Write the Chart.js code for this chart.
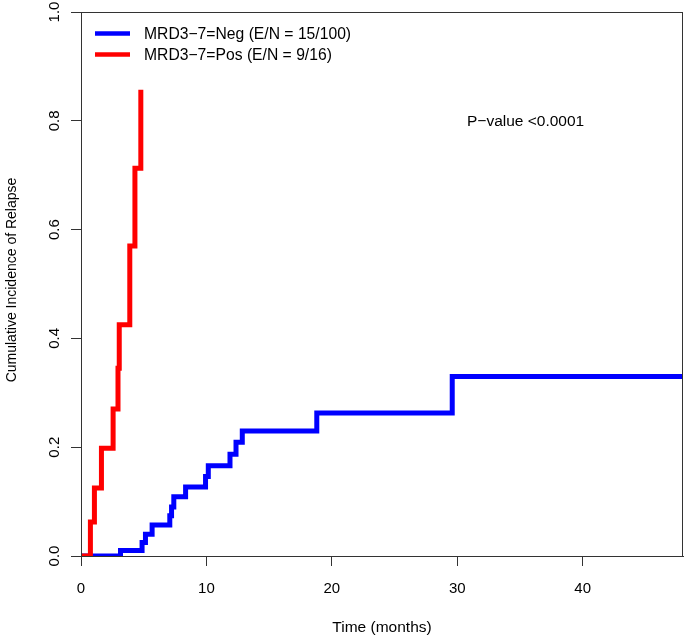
<!DOCTYPE html>
<html><head><meta charset="utf-8">
<script src="https://cdn.jsdelivr.net/npm/chart.js@4"></script>
<style>html,body{margin:0;padding:0;background:#fff}#wrap{width:685px;height:640px}</style>
</head><body><div id="wrap"><canvas id="c"></canvas></div>
<script>
// ---- data ----
const negTimes  = [0, 3.15, 4.87, 5.14, 5.67, 7.08, 7.22, 7.4, 8.34, 9.93, 10.15, 11.88, 12.36, 12.86, 18.8, 29.6, 48];
const negValues = [0, 0.01, 0.025, 0.04, 0.057, 0.074, 0.09, 0.109, 0.127, 0.146, 0.166, 0.187, 0.209, 0.23, 0.263, 0.33, 0.33];
const posTimes  = [0, 0.75, 1.07, 1.63, 2.56, 2.95, 3.05, 3.89, 4.3, 4.77];
const posValues = [0, 0.0625, 0.125, 0.198, 0.27, 0.345, 0.425, 0.57, 0.713, 0.857];
const seriesLabels = ['MRD3\u22127=Neg (E/N = 15/100)', 'MRD3\u22127=Pos (E/N = 9/16)'];
const seriesColors = ['#0000ff', '#ff0000'];
const xTicks = [0, 10, 20, 30, 40];
const yTicks = [0, 0.2, 0.4, 0.6, 0.8, 1.0];
const yTickLabels = ['0.0', '0.2', '0.4', '0.6', '0.8', '1.0'];
const xTitle = 'Time (months)';
const yTitle = 'Cumulative Incidence of Relapse';
const pText = 'P\u2212value <0.0001';

const FONT = '"Liberation Sans", Arial, sans-serif';
const toPts = (t, v) => t.map((x, i) => ({x, y: v[i]}));

const decor = {
  id: 'decor',
  afterDraw(chart) {
    const {ctx, chartArea: a, scales: {x, y}} = chart;
    ctx.save();
    ctx.strokeStyle = '#333'; ctx.lineWidth = 1;
    ctx.strokeRect(a.left + 0.5, a.top + 0.5, a.right - a.left - 1, a.bottom - a.top);
    ctx.fillStyle = '#000';
    ctx.font = '15px ' + FONT;
    ctx.textAlign = 'center'; ctx.textBaseline = 'middle';
    yTicks.forEach((v, i) => {
      const py = y.getPixelForValue(v);
      ctx.save(); ctx.translate(55, py); ctx.rotate(-Math.PI / 2);
      ctx.fillText(yTickLabels[i], 0, 0); ctx.restore();
    });
    ctx.font = '14px ' + FONT;
    ctx.save(); ctx.translate(12, 280); ctx.rotate(-Math.PI / 2);
    ctx.fillText(yTitle, 0, 0); ctx.restore();
    ctx.font = '15.5px ' + FONT;
    ctx.fillText(xTitle, (a.left + a.right) / 2, 628);
    // legend
    ctx.textAlign = 'left';
    ctx.font = '15.7px ' + FONT;
    chart.data.datasets.forEach((ds, i) => {
      const ly = 33.5 + i * 21;
      ctx.strokeStyle = ds.borderColor; ctx.lineWidth = 4.5;
      ctx.beginPath(); ctx.moveTo(95, ly); ctx.lineTo(130, ly); ctx.stroke();
      ctx.fillText(ds.label, 144, ly + 1.5);
    });
    ctx.font = '15.5px ' + FONT;
    ctx.fillText(pText, 467, 122);
    ctx.restore();
  }
};

new Chart(document.getElementById('c'), {
  type: 'line',
  data: {
    datasets: [
      {label: seriesLabels[0], data: toPts(negTimes, negValues), borderColor: seriesColors[0], borderWidth: 5, stepped: 'before', pointRadius: 0, fill: false, order: 1, borderCapStyle: 'butt', borderJoinStyle: 'miter'},
      {label: seriesLabels[1], data: toPts(posTimes, posValues), borderColor: seriesColors[1], borderWidth: 5, stepped: 'before', pointRadius: 0, fill: false, order: 0, borderCapStyle: 'butt', borderJoinStyle: 'miter'}
    ]
  },
  options: {
    responsive: true, maintainAspectRatio: false, animation: false,
    layout: {padding: {top: 12, right: 2, left: 0, bottom: 0}},
    plugins: {legend: {display: false}, tooltip: {enabled: false}},
    scales: {
      x: {
        type: 'linear', min: 0, max: 48,
        afterBuildTicks: s => { s.ticks = xTicks.map(v => ({value: v})); },
        afterFit: s => { s.height = 84; },
        grid: {drawOnChartArea: false, drawTicks: true, tickLength: 10, color: '#333'},
        border: {display: true, color: '#333'},
        ticks: {font: {size: 15, family: FONT}, color: '#000', padding: 14, maxRotation: 0}
      },
      y: {
        type: 'linear', min: 0, max: 1,
        afterBuildTicks: s => { s.ticks = yTicks.map(v => ({value: v})); },
        afterFit: s => { s.width = 81; },
        grid: {drawOnChartArea: false, drawTicks: true, tickLength: 10, color: '#333'},
        border: {display: true, color: '#333'},
        ticks: {display: false}
      }
    }
  },
  plugins: [decor]
});
</script></body></html>
